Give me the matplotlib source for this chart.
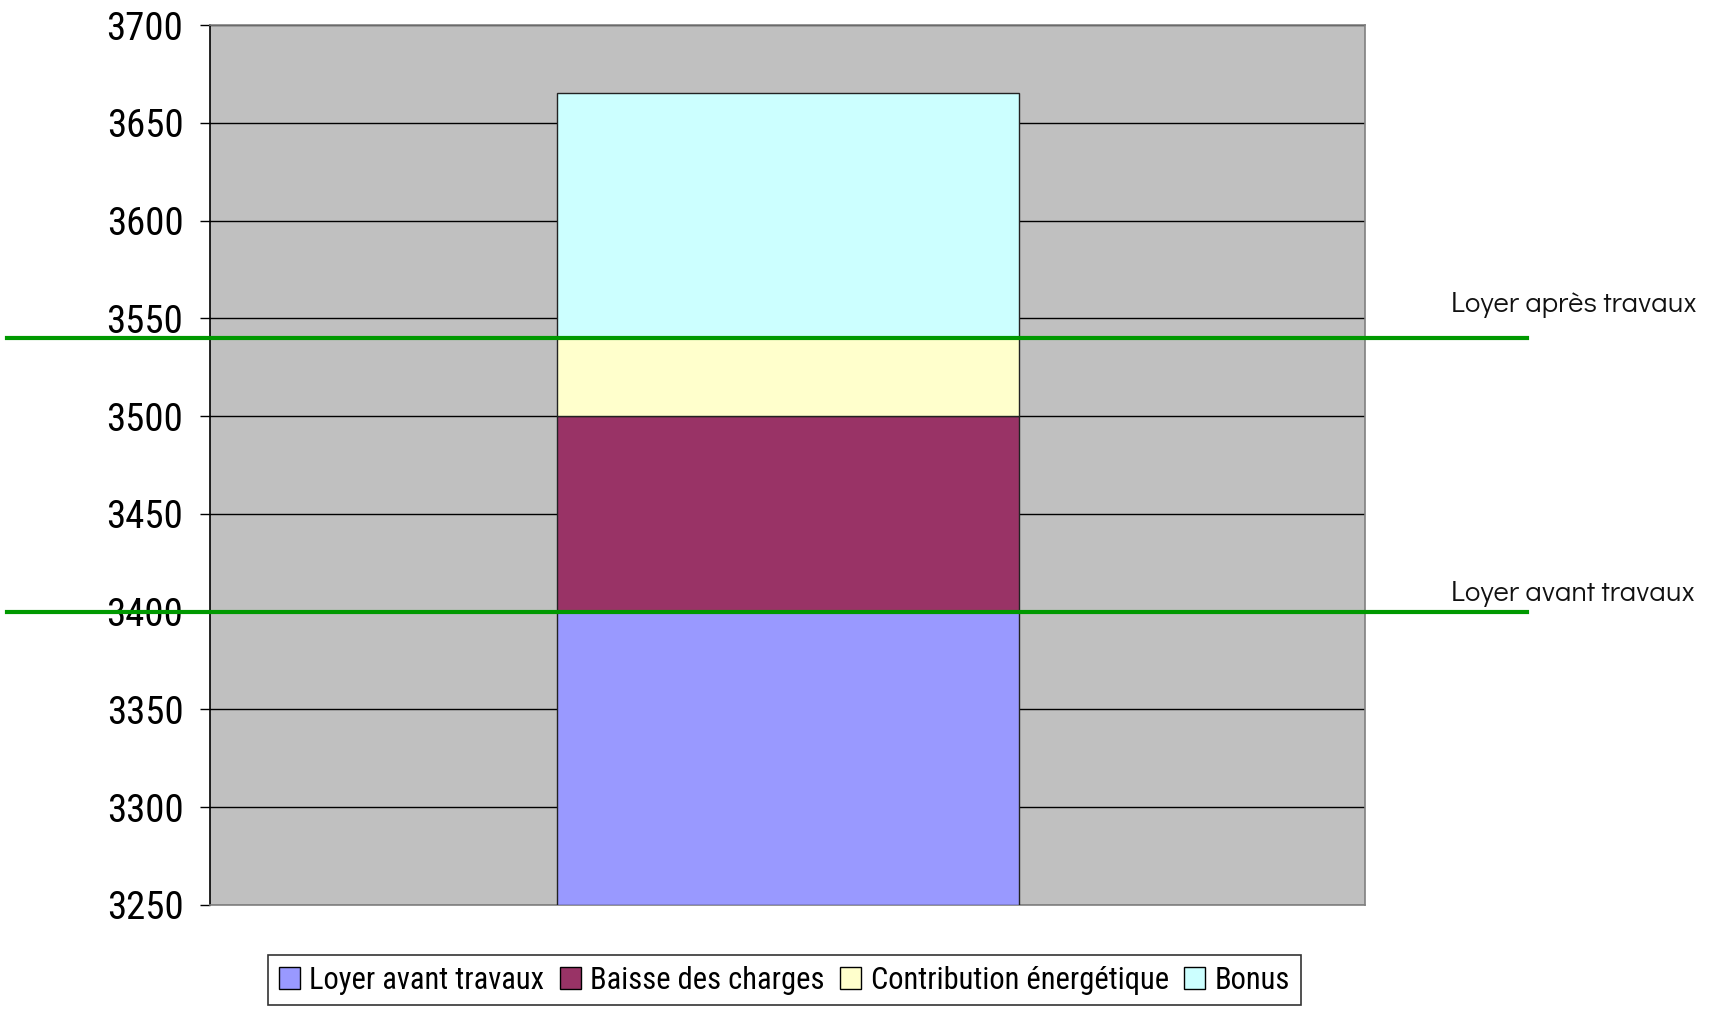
import matplotlib
matplotlib.use("Agg")
import matplotlib.pyplot as plt

# stacked segments of the single bar
segments = ["Loyer avant travaux", "Baisse des charges", "Contribution énergétique", "Bonus"]
seg_values = [150, 100, 40, 125]   # heights above the 3250 axis floor
seg_colors = ["#9999FF", "#993366", "#FFFFCC", "#CCFFFF"]
axis_floor = 3250

# reference levels drawn as green lines
ref_labels = ["Loyer après travaux", "Loyer avant travaux"]
ref_values = [3540, 3400]
ref_label_offsets = [19, 8]   # label baseline above the line, in points

yticks = list(range(3250, 3701, 50))

NARROW = ["Roboto Condensed", "Archivo Narrow", "DejaVu Sans"]
GOTHIC = ["Didact Gothic", "Questrial", "DejaVu Sans"]

fig = plt.figure(figsize=(17.29, 10.09), dpi=100)
ax = fig.add_axes([0.1215, 0.1031, 0.668, 0.8721])
ax.set_facecolor("#C0C0C0")

bottom = axis_floor
for name, h, c in zip(segments, seg_values, seg_colors):
    ax.bar(0, h, bottom=bottom, width=0.4, color=c, edgecolor="#222222",
           linewidth=1.0, label=name, zorder=3)
    bottom += h

ax.set_xlim(-0.5, 0.5)
ax.set_ylim(3250, 3700)
ax.set_yticks(yticks)
ax.set_yticklabels([str(t) for t in yticks], family=NARROW, fontsize=28)
ax.set_xticks([])
ax.yaxis.grid(True, color="black", linewidth=1.0, zorder=1)
ax.set_axisbelow(True)
ax.tick_params(axis="y", length=7.2, width=1.0, pad=12)

for side in ["top", "right", "bottom"]:
    ax.spines[side].set_color("#808080")
    ax.spines[side].set_linewidth(1.2)
ax.spines["left"].set_color("black")
ax.spines["left"].set_linewidth(1.2)

for lab, v, off in zip(ref_labels, ref_values, ref_label_offsets):
    ax.axhline(v, xmin=-0.176, xmax=1.14, color="#009900", linewidth=3,
               clip_on=False, zorder=5)
    ax.annotate(lab, xy=(1.0745, v), xycoords=("axes fraction", "data"),
                xytext=(0, off), textcoords="offset points",
                ha="left", va="baseline", fontsize=21, family=GOTHIC,
                color="#111111", annotation_clip=False)

leg = fig.legend(loc="center", bbox_to_anchor=(0.4537, 0.0287), ncol=4,
                 prop={"family": NARROW, "size": 22}, frameon=True, fancybox=False,
                 edgecolor="black", handlelength=0.7, handleheight=0.7,
                 handletextpad=0.3, columnspacing=0.5, borderpad=0.35,
                 borderaxespad=0)
leg.get_frame().set_linewidth(1.2)
for h in leg.legend_handles:
    h.set_edgecolor("black")
    h.set_linewidth(1.0)

fig.savefig("out.png", dpi=100)
